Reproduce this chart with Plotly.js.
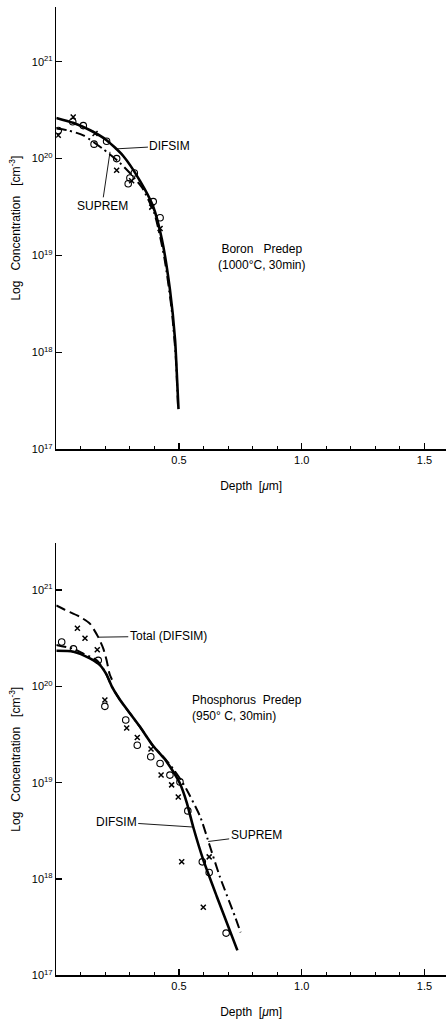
<!DOCTYPE html>
<html>
<head>
<meta charset="utf-8">
<script src="https://cdn.plot.ly/plotly-3.0.1.min.js"></script>
<style>html,body{margin:0;padding:0;background:#fff;}#chart{width:446px;height:1024px;}</style>
</head>
<body>
<div id="chart"></div>
<script>
// ---------- Boron predep (top panel) ----------
const boronDifsimX = [0, 0.068, 0.14, 0.205, 0.272, 0.341, 0.394, 0.43, 0.463, 0.484, 0.493, 0.498];
const boronDifsimY = [2.63e20, 2.34e20, 1.95e20, 1.55e20, 1.07e20, 5.9e19, 3.24e19, 1.48e19, 4.47e18, 1.35e18, 4.8e17, 2.6e17];
const boronSupremX = [0, 0.05, 0.11, 0.19, 0.25, 0.30, 0.35, 0.40, 0.44, 0.47, 0.487, 0.496];
const boronSupremY = [2.04e20, 1.95e20, 1.74e20, 1.26e20, 9.5e19, 7.1e19, 5.0e19, 2.7e19, 9.6e18, 2.8e18, 8.9e17, 2.8e17];
const boronCircX = [0.008, 0.067, 0.11, 0.154, 0.205, 0.246, 0.293, 0.30, 0.318, 0.395, 0.423];
const boronCircY = [1.95e20, 2.4e20, 2.19e20, 1.41e20, 1.51e20, 1.0e20, 5.5e19, 6.3e19, 7.1e19, 3.6e19, 2.45e19];
const boronXX = [0.008, 0.069, 0.158, 0.246, 0.307, 0.389, 0.423];
const boronXY = [1.74e20, 2.69e20, 1.82e20, 7.6e19, 5.9e19, 3.16e19, 1.9e19];

// ---------- Phosphorus predep (bottom panel) ----------
const phosTotalX = [0, 0.036, 0.097, 0.137, 0.171, 0.192, 0.205, 0.217, 0.227];
const phosTotalY = [6.9e20, 6.2e20, 5.25e20, 4.47e20, 3.24e20, 2.45e20, 1.86e20, 1.35e20, 1.17e20];
const phosDifsimX = [0, 0.07, 0.137, 0.178, 0.205, 0.226, 0.26, 0.30, 0.341, 0.395, 0.443, 0.48, 0.504, 0.531, 0.558, 0.599, 0.654, 0.738];
const phosDifsimY = [2.34e20, 2.29e20, 1.95e20, 1.66e20, 1.32e20, 1.0e20, 7.2e19, 5.25e19, 3.8e19, 2.4e19, 1.74e19, 1.26e19, 9.8e18, 6.3e18, 3.47e18, 1.58e18, 6.6e17, 1.82e17];
const phosSupremX = [0, 0.07, 0.11, 0.165, 0.199, 0.226, 0.26, 0.30, 0.341, 0.395, 0.443, 0.48, 0.51, 0.531, 0.586, 0.626, 0.667, 0.728, 0.751];
const phosSupremY = [2.69e20, 2.45e20, 2.19e20, 1.86e20, 1.41e20, 1.0e20, 7.2e19, 5.25e19, 3.8e19, 2.4e19, 1.78e19, 1.35e19, 1.05e19, 8.5e18, 4.47e18, 2.19e18, 1.05e18, 4.1e17, 2.8e17];
const phosCircX = [0.022, 0.07, 0.171, 0.198, 0.283, 0.33, 0.385, 0.423, 0.463, 0.504, 0.536, 0.595, 0.623, 0.692];
const phosCircY = [2.88e20, 2.45e20, 1.86e20, 6.2e19, 4.47e19, 2.45e19, 1.86e19, 1.58e19, 1.2e19, 1.02e19, 5.1e18, 1.51e18, 1.17e18, 2.75e17];
const phosXX = [0.086, 0.117, 0.167, 0.198, 0.287, 0.33, 0.386, 0.427, 0.47, 0.497, 0.511, 0.599, 0.623];
const phosXY = [4.0e20, 3.16e20, 2.4e20, 7.2e19, 3.7e19, 2.95e19, 2.24e19, 1.2e19, 9.5e18, 7.1e18, 1.51e18, 5.1e17, 1.7e18];

// ---------- axis ticks ----------
const yTickVals = [1e17, 1e18, 1e19, 1e20, 1e21];
const yTickText = ['10<sup>17</sup>', '10<sup>18</sup>', '10<sup>19</sup>', '10<sup>20</sup>', '10<sup>21</sup>'];
const xTickVals = [0.5, 1.0, 1.5];
const xTickText = ['0.5', '1.0', '1.5'];

const FONT = 'Liberation Sans, Arial, Helvetica, sans-serif';
const NB = '\u00A0';

function line(x, y, xa, ya, width, dash) {
  return {x: x, y: y, xaxis: xa, yaxis: ya, type: 'scatter', mode: 'lines',
    line: {color: '#000', width: width, dash: dash, shape: 'spline', smoothing: 0.6},
    hoverinfo: 'skip', showlegend: false};
}
function pts(x, y, xa, ya, symbol, size, lw) {
  return {x: x, y: y, xaxis: xa, yaxis: ya, type: 'scatter', mode: 'markers',
    marker: {symbol: symbol, size: size, color: '#000', line: {color: '#000', width: lw}},
    hoverinfo: 'skip', showlegend: false};
}

const data = [
  line(boronSupremX, boronSupremY, 'x', 'y', 2, '10px,4px,2px,4px'),
  line(boronDifsimX, boronDifsimY, 'x', 'y', 2.6, 'solid'),
  pts(boronCircX, boronCircY, 'x', 'y', 'circle-open', 6.5, 1.1),
  pts(boronXX, boronXY, 'x', 'y', 'x-thin-open', 5, 1.5),
  line(phosTotalX, phosTotalY, 'x2', 'y2', 2, '10px,5px'),
  line(phosSupremX, phosSupremY, 'x2', 'y2', 2, '10px,4px,2px,4px'),
  line(phosDifsimX, phosDifsimY, 'x2', 'y2', 2.6, 'solid'),
  pts(phosCircX, phosCircY, 'x2', 'y2', 'circle-open', 6.5, 1.1),
  pts(phosXX, phosXY, 'x2', 'y2', 'x-thin-open', 5, 1.5)
];

function xAxis(anchor) {
  return {
    anchor: anchor, domain: [0.1262, 1], range: [0, 1.588],
    showline: true, linecolor: '#000', linewidth: 1.5, mirror: false,
    showgrid: false, zeroline: false,
    ticks: 'inside', ticklen: 6, tickwidth: 1.2, tickcolor: '#000',
    tickmode: 'array', tickvals: xTickVals, ticktext: xTickText,
    tickfont: {family: FONT, size: 11, color: '#000'},
    minor: {dtick: 0.1, tick0: 0, ticks: 'inside', ticklen: 3.5, tickwidth: 1, tickcolor: '#000', showgrid: false},
    title: {text: 'Depth' + NB + NB + '[<i>\u03bc</i>m]', font: {family: FONT, size: 12, color: '#000'}, standoff: 16},
    automargin: false, fixedrange: true
  };
}
function yAxis(anchor, domain, top) {
  return {
    anchor: anchor, domain: domain, type: 'log', range: [17, top],
    showline: true, linecolor: '#000', linewidth: 1.5, mirror: false,
    showgrid: false, zeroline: false,
    ticks: 'inside', ticklen: 6, tickwidth: 1.2, tickcolor: '#000',
    tickmode: 'array', tickvals: yTickVals, ticktext: yTickText,
    tickfont: {family: FONT, size: 11, color: '#000'},
    title: {text: 'Log' + NB + NB + NB + 'Concentration' + NB + NB + NB + '[cm<sup>-3</sup>]',
      font: {family: FONT, size: 12, color: '#000'}, standoff: 8},
    automargin: false, fixedrange: true
  };
}

const annFont = {family: FONT, size: 12, color: '#000'};
function lbl(text, xref, yref, x, y, ax, ay) {
  return {text: text, xref: xref, yref: yref, x: x, y: y, ax: ax, ay: ay,
    showarrow: true, arrowhead: 0, arrowwidth: 0.9, arrowcolor: '#000', standoff: 0,
    font: annFont};
}

const layout = {
  width: 446, height: 1024,
  margin: {l: 0, r: 0, t: 0, b: 0},
  paper_bgcolor: '#fff', plot_bgcolor: 'rgba(0,0,0,0)',
  showlegend: false,
  xaxis: xAxis('y'),
  yaxis: yAxis('x', [0.5612, 0.9932], 21.565),
  xaxis2: xAxis('y2'),
  yaxis2: yAxis('x2', [0.0474, 0.4697], 21.487),
  annotations: [
    lbl('DIFSIM', 'x', 'y', 0.239, 20.1, 55, -3),
    lbl('SUPREM', 'x', 'y', 0.219, 20.07, -8, 54),
    {text: 'Boron' + NB + NB + NB + 'Predep<br>(1000\u00b0C,' + NB + '30min)', xref: 'paper', yref: 'paper',
      x: 262 / 446, y: 1 - 256.5 / 1024, xanchor: 'center', yanchor: 'middle', showarrow: false, font: annFont},
    lbl('Total' + NB + '(DIFSIM)', 'x2', 'y2', 0.171, 20.51, 70, -1),
    lbl('DIFSIM', 'x2', 'y2', 0.558, 18.54, -77, -5),
    lbl('SUPREM', 'x2', 'y2', 0.619, 18.39, 48, -6),
    {text: 'Phosphorus' + NB + NB + 'Predep<br>(950\u00b0' + NB + 'C,' + NB + '30min)', xref: 'paper', yref: 'paper',
      x: 190 / 446, y: 1 - 708 / 1024, xanchor: 'left', yanchor: 'middle', align: 'left', showarrow: false, font: annFont}
  ]
};

Plotly.newPlot('chart', data, layout, {staticPlot: true, displayModeBar: false});
</script>
</body>
</html>
